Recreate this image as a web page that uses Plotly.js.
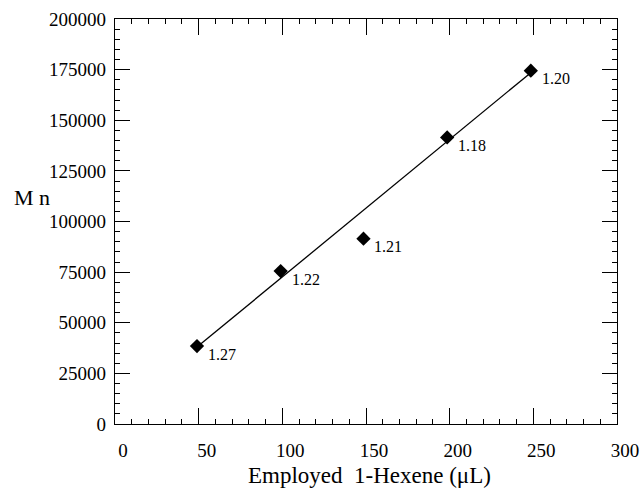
<!DOCTYPE html>
<html>
<head>
<meta charset="utf-8">
<script src="https://cdn.plot.ly/plotly-3.0.1.min.js"></script>
<style>html,body{margin:0;padding:0;background:#fff;}#chart{width:643px;height:493px;}</style>
</head>
<body>
<div id="chart"></div>
<script>
// Data
const hexene = [49, 99, 148.5, 198.5, 248.5];          // µL
const mn = [38500, 75500, 91500, 141500, 174500];       // Mn
const pdi = ["1.27", "1.22", "1.21", "1.18", "1.20"];  // labels beside points
const fitX = [49, 248.5];
const fitY = [38000, 173500];
const xTicks = [0, 50, 100, 150, 200, 250, 300];
const yTicks = [0, 25000, 50000, 75000, 100000, 125000, 150000, 175000, 200000];

const serif = "Liberation Serif, Times New Roman, serif";

const traces = [
  {x: fitX, y: fitY, mode: "lines", type: "scatter",
   line: {color: "#000", width: 1.3}, hoverinfo: "skip", showlegend: false},
  {x: hexene, y: mn, mode: "markers", type: "scatter",
   marker: {symbol: "diamond", size: 11, color: "#000"}, showlegend: false}
];

const annotations = hexene.map((xv, i) => ({
  x: xv, y: mn[i], xref: "x", yref: "y", text: pdi[i], showarrow: false,
  xanchor: "left", yanchor: "middle", xshift: 9, yshift: -8,
  font: {family: serif, size: 16, color: "#000"}
}));
annotations.push({
  x: 0, y: 0.5585, xref: "paper", yref: "paper", xanchor: "right", yanchor: "middle",
  xshift: -63, text: "M n", showarrow: false,
  font: {family: serif, size: 22, color: "#000"}
});
annotations.push({
  x: 0.5, y: 0, xref: "paper", yref: "paper", xanchor: "center", yanchor: "middle",
  xshift: 3, yshift: -51, text: "Employed  1-Hexene (μL)", showarrow: false,
  font: {family: serif, size: 23, color: "#000"}
});

const layout = {
  width: 643, height: 493,
  margin: {l: 115, r: 26, t: 19, b: 69},
  paper_bgcolor: "#fff", plot_bgcolor: "#fff",
  font: {family: serif, color: "#000"},
  showlegend: false,
  xaxis: {
    range: [0, 300], tickvals: xTicks, ticktext: xTicks.map(String),
    ticks: "inside", ticklen: 16, tickwidth: 1, tickcolor: "#000",
    showline: true, linecolor: "#000", linewidth: 1.3, mirror: "allticks",
    showgrid: false, zeroline: false,
    tickfont: {family: serif, size: 19, color: "#000"},
    ticklabelshift: 8, ticklabelstandoff: 9,
    minor: {dtick: 10, ticks: "inside", ticklen: 5, tickcolor: "#000", showgrid: false}
  },
  yaxis: {
    range: [0, 200000], tickvals: yTicks, ticktext: yTicks.map(String),
    ticks: "inside", ticklen: 15, tickwidth: 1, tickcolor: "#000",
    showline: true, linecolor: "#000", linewidth: 1.3, mirror: "allticks",
    showgrid: false, zeroline: false,
    tickfont: {family: serif, size: 19, color: "#000"},
    ticklabelstandoff: 4,
    minor: {dtick: 5000, ticks: "inside", ticklen: 5, tickcolor: "#000", showgrid: false}
  },
  annotations: annotations
};

Plotly.newPlot("chart", traces, layout, {displayModeBar: false, staticPlot: true});
</script>
</body>
</html>
